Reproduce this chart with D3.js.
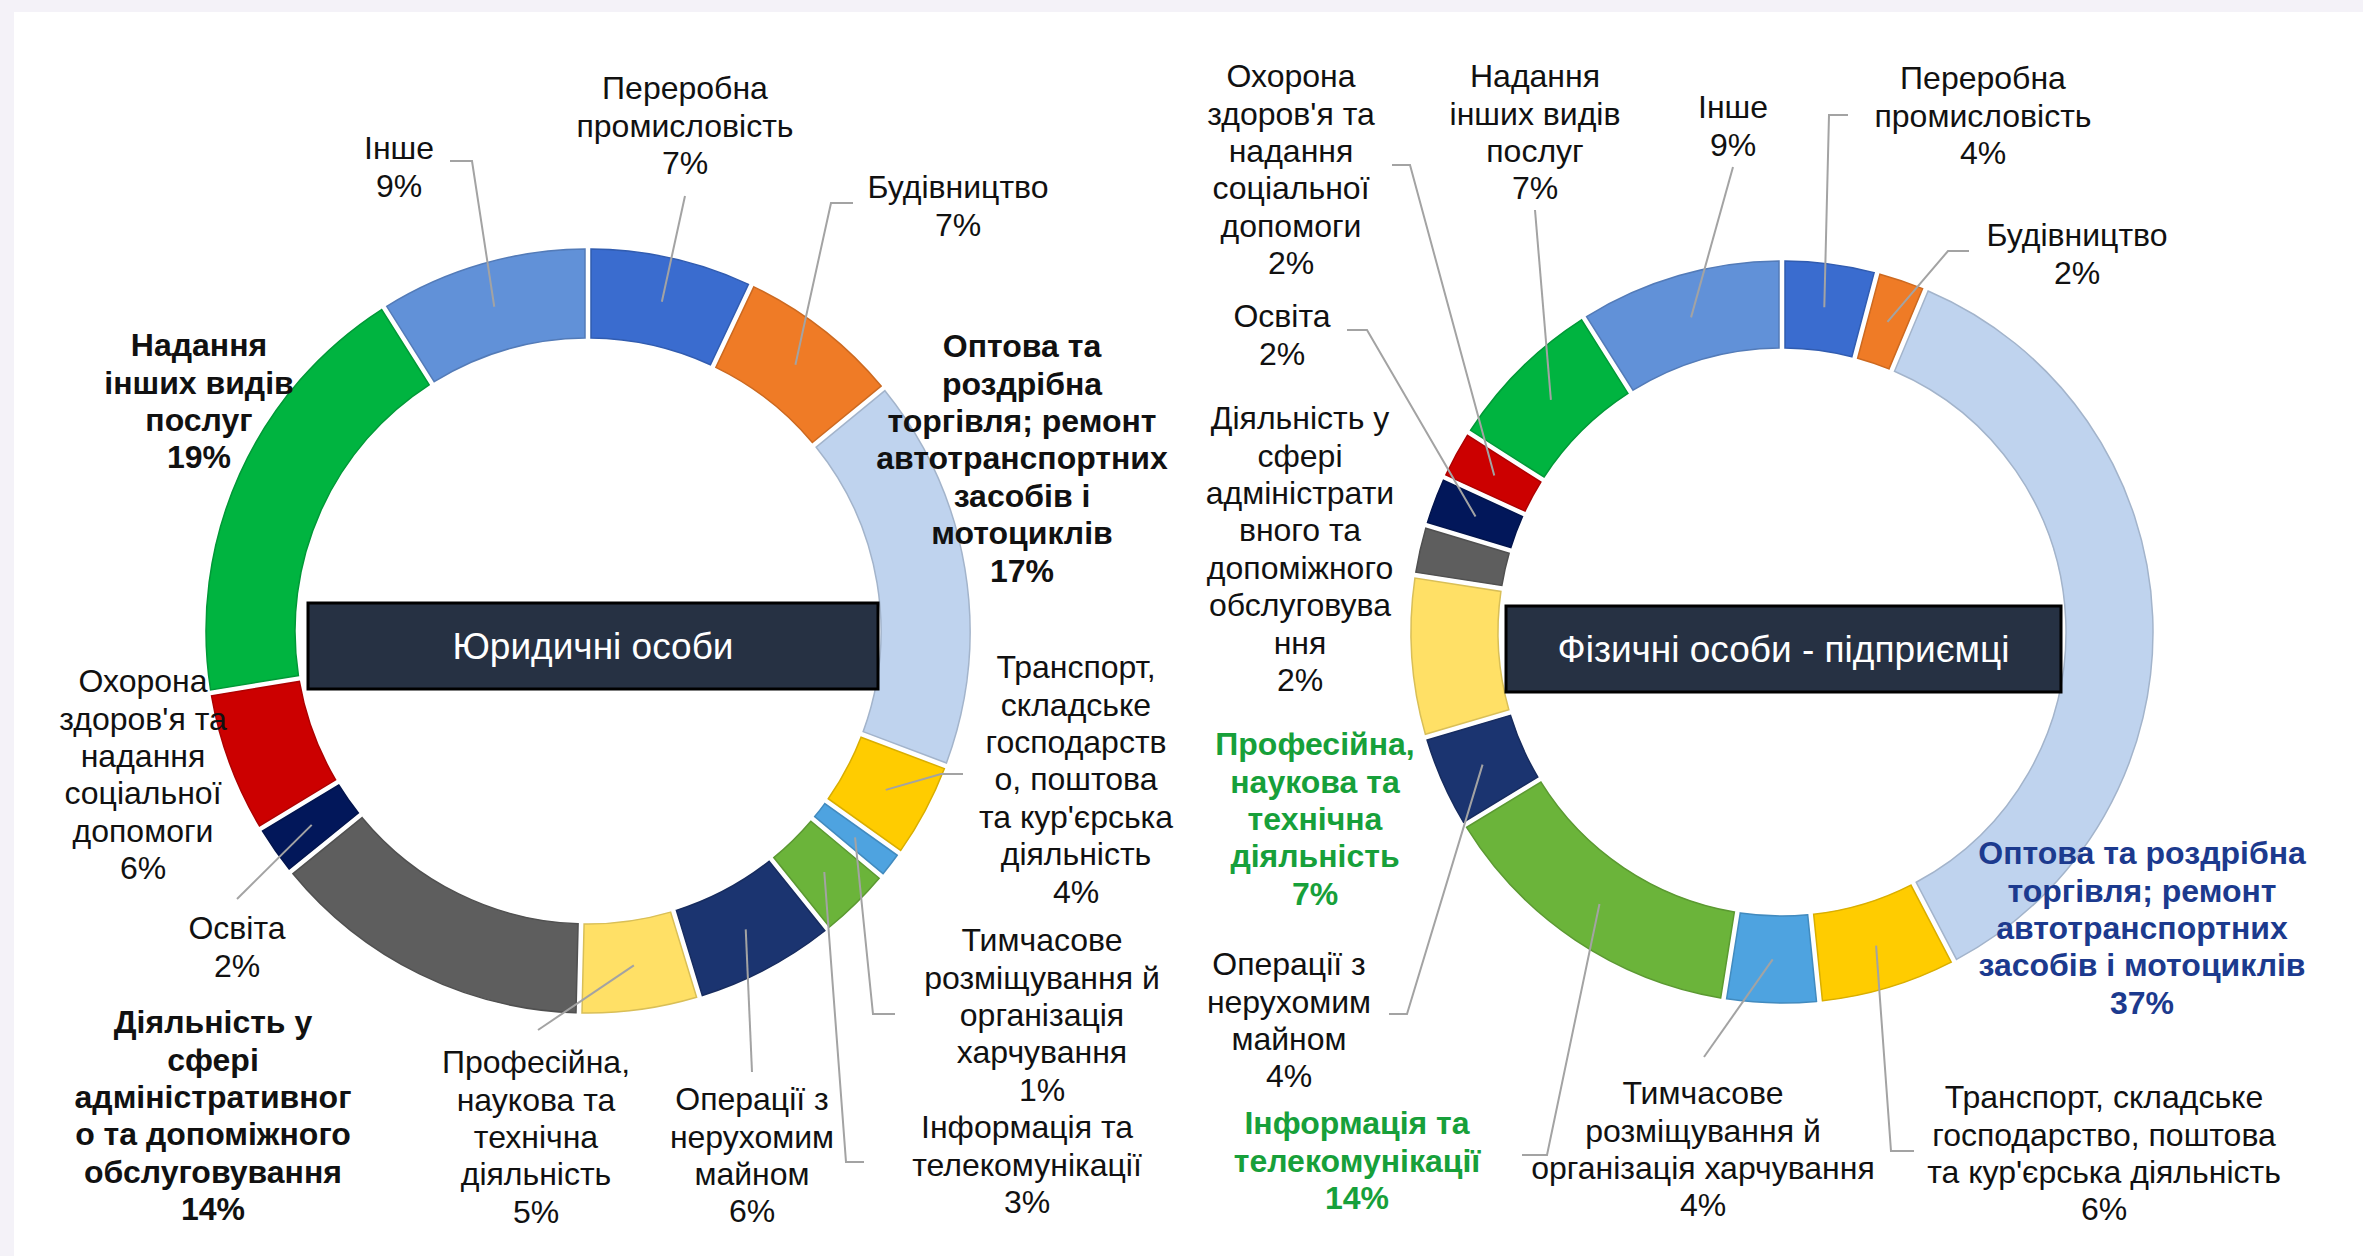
<!DOCTYPE html>
<html>
<head>
<meta charset="utf-8">
<script src="https://cdn.jsdelivr.net/npm/d3@7"></script>
<style>
  html, body { margin: 0; padding: 0; background: #f4f2f8; }
  svg { display: block; font-family: "Liberation Sans", Arial, sans-serif; }
</style>
</head>
<body>
<div id="chart"></div>
<script>
// Sectors (clockwise from 12 o'clock)
const sectors = [
  'Переробна промисловість',
  'Будівництво',
  'Оптова та роздрібна торгівля; ремонт автотранспортних засобів і мотоциклів',
  'Транспорт, складське господарство, поштова та кур\'єрська діяльність',
  'Тимчасове розміщування й організація харчування',
  'Інформація та телекомунікації',
  'Операції з нерухомим майном',
  'Професійна, наукова та технічна діяльність',
  'Діяльність у сфері адміністративного та допоміжного обслуговування',
  'Освіта',
  'Охорона здоров\'я та надання соціальної допомоги',
  'Надання інших видів послуг',
  'Інше'
]
// shares, %
const legalShares = [7, 7, 17, 4, 1, 3, 6, 5, 14, 2, 6, 19, 9]
const entrepreneurShares = [4, 2, 37, 6, 4, 14, 4, 7, 2, 2, 2, 7, 9]
const chartTitles = ['Юридичні особи', 'Фізичні особи - підприємці']

const sectorColors = ['#3a6ccf', '#ef7b26', '#bfd3ee', '#ffcc00', '#4ea3e0', '#6bb43a',
  '#1b3470', '#ffe066', '#5e5e5e', '#02175a', '#cc0000', '#00b440', '#6191d8']

// label layout: wrapped lines, centre x, first line y, leader start points, style
const legalLabels = [
  { lines: ['Переробна', 'промисловість'], x: 685, y: 88, lead: [[685, 196]] },
  { lines: ['Будівництво'], x: 958, y: 187, lead: [[853, 203], [831, 203]] },
  { lines: ['Оптова та', 'роздрібна', 'торгівля; ремонт', 'автотранспортних', 'засобів і', 'мотоциклів'], x: 1022, y: 346, bold: true },
  { lines: ['Транспорт,', 'складське', 'господарств', 'о, поштова', 'та кур\'єрська', 'діяльність'], x: 1076, y: 667, lead: [[963, 774], [941, 774]] },
  { lines: ['Тимчасове', 'розміщування й', 'організація', 'харчування'], x: 1042, y: 940, lead: [[895, 1014], [873, 1014]] },
  { lines: ['Інформація та', 'телекомунікації'], x: 1027, y: 1127, lead: [[864, 1162], [846, 1162]] },
  { lines: ['Операції з', 'нерухомим', 'майном'], x: 752, y: 1099, lead: [[752, 1072]] },
  { lines: ['Професійна,', 'наукова та', 'технічна', 'діяльність'], x: 536, y: 1062, lead: [[538, 1030]] },
  { lines: ['Діяльність у', 'сфері', 'адміністративног', 'о та допоміжного', 'обслуговування'], x: 213, y: 1022, bold: true },
  { lines: ['Освіта'], x: 237, y: 928, lead: [[237, 899]] },
  { lines: ['Охорона', 'здоров\'я та', 'надання', 'соціальної', 'допомоги'], x: 143, y: 681 },
  { lines: ['Надання', 'інших видів', 'послуг'], x: 199, y: 345, bold: true },
  { lines: ['Інше'], x: 399, y: 148, lead: [[450, 161], [472, 161]] }
]
const entrepreneurLabels = [
  { lines: ['Переробна', 'промисловість'], x: 1983, y: 78, lead: [[1848, 115], [1829, 115]] },
  { lines: ['Будівництво'], x: 2077, y: 235, lead: [[1969, 251], [1948, 251]] },
  { lines: ['Оптова та роздрібна', 'торгівля; ремонт', 'автотранспортних', 'засобів і мотоциклів'], x: 2142, y: 853, bold: true, color: '#1c3a8e' },
  { lines: ['Транспорт, складське', 'господарство, поштова', 'та кур\'єрська діяльність'], x: 2104, y: 1097, lead: [[1914, 1151], [1891, 1151]] },
  { lines: ['Тимчасове', 'розміщування й', 'організація харчування'], x: 1703, y: 1093, lead: [[1704, 1057]] },
  { lines: ['Інформація та', 'телекомунікації'], x: 1357, y: 1123, bold: true, color: '#17a03a', lead: [[1522, 1155], [1547, 1155]] },
  { lines: ['Операції з', 'нерухомим', 'майном'], x: 1289, y: 964, lead: [[1389, 1014], [1407, 1014]] },
  { lines: ['Професійна,', 'наукова та', 'технічна', 'діяльність'], x: 1315, y: 744, bold: true, color: '#17a03a' },
  { lines: ['Діяльність у', 'сфері', 'адміністрати', 'вного та', 'допоміжного', 'обслуговува', 'ння'], x: 1300, y: 418 },
  { lines: ['Освіта'], x: 1282, y: 316, lead: [[1347, 330], [1367, 330]] },
  { lines: ['Охорона', 'здоров\'я та', 'надання', 'соціальної', 'допомоги'], x: 1291, y: 76, lead: [[1392, 165], [1410, 165]] },
  { lines: ['Надання', 'інших видів', 'послуг'], x: 1535, y: 76, lead: [[1535, 210]] },
  { lines: ['Інше'], x: 1733, y: 107, lead: [[1733, 167]] }
]

const W = 2363, H = 1256
const lineH = 37.4

const svg = d3.select('#chart').append('svg')
  .attr('width', W)
  .attr('height', H)

svg.append('rect').attr('width', W).attr('height', H).attr('fill', '#f4f2f8')
svg.append('rect').attr('x', 14).attr('y', 12).attr('width', W - 14).attr('height', H - 12).attr('fill', '#ffffff')

function drawDonut(shares, labels, title, cx, cy, R, r, box) {
  const g = svg.append('g')

  const pie = d3.pie().sort(null).value(d => d).padAngle(6 / R)
  const arc = d3.arc().innerRadius(r).outerRadius(R).padRadius(R)
  const arcs = pie(shares)

  const ring = g.append('g').attr('transform', `translate(${cx},${cy})`)
  ring.selectAll('path')
    .data(arcs)
    .join('path')
    .attr('d', arc)
    .attr('fill', (d, i) => sectorColors[i])
    .attr('stroke', (d, i) => d3.color(sectorColors[i]).darker(0.45))
    .attr('stroke-width', 1.5)

  // leader lines
  const line = d3.line()
  arcs.forEach((d, i) => {
    const lab = labels[i]
    if (!lab.lead) return
    const c = arc.centroid(d)
    const pts = lab.lead.concat([[cx + c[0], cy + c[1]]])
    g.append('path')
      .attr('d', line(pts))
      .attr('fill', 'none')
      .attr('stroke', '#a3a3a3')
      .attr('stroke-width', 2)
  })

  // data labels on top
  const labelG = g.append('g')
  labels.forEach((lab, i) => {
    const t = labelG.append('text')
      .attr('text-anchor', 'middle')
      .attr('font-size', 32)
      .attr('font-weight', lab.bold ? 'bold' : 'normal')
      .attr('fill', lab.color || '#111')
    lab.lines.concat([shares[i] + '%']).forEach((ln, k) => {
      t.append('tspan')
        .attr('x', lab.x)
        .attr('y', lab.y + k * lineH)
        .attr('dy', '0.35em')
        .text(ln)
    })
  })

  // title box in the middle
  g.append('rect')
    .attr('x', box[0]).attr('y', box[1])
    .attr('width', box[2]).attr('height', box[3])
    .attr('fill', '#263143')
    .attr('stroke', '#000')
    .attr('stroke-width', 3)
  g.append('text')
    .attr('x', box[0] + box[2] / 2)
    .attr('y', box[1] + box[3] / 2)
    .attr('dy', '0.35em')
    .attr('text-anchor', 'middle')
    .attr('font-size', 37)
    .attr('fill', '#fff')
    .text(title)
}

drawDonut(legalShares, legalLabels, chartTitles[0], 588, 631, 382, 293, [308, 603, 570, 86])
drawDonut(entrepreneurShares, entrepreneurLabels, chartTitles[1], 1782, 632, 371, 284, [1506, 606, 555, 86])
</script>
</body>
</html>
